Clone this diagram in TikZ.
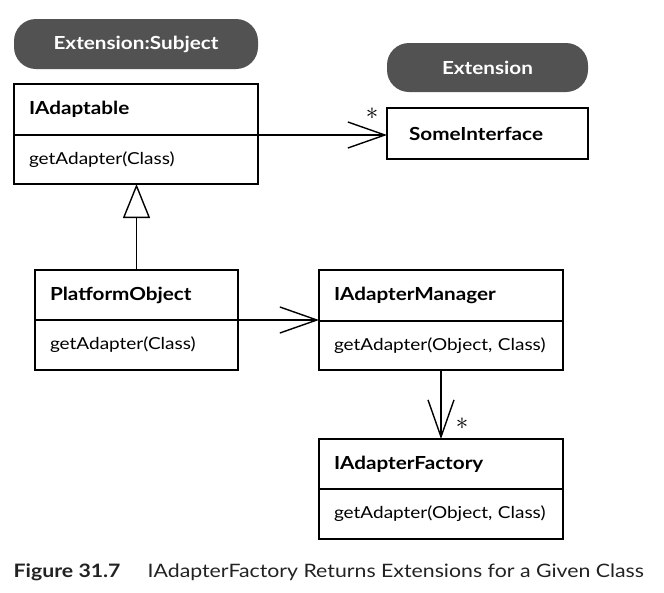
\documentclass[tikz,border=0pt]{standalone}
\usepackage{fontspec}
\setmainfont[FakeStretch=1.15]{Lato}
\usetikzlibrary{positioning,arrows.meta}

\definecolor{pillgray}{HTML}{525252}
\definecolor{captiongray}{HTML}{222222}

\begin{document}
\begin{tikzpicture}[x=1pt,y=-1pt,line width=1.4pt,
classhead/.style={rectangle, draw=black, outer sep=0pt, inner xsep=15pt, text width=#1, minimum height=51pt, align=left, font=\bfseries\fontsize{18}{21}\selectfont},
classhead/.default=214pt,
classbody/.style={classhead=#1, minimum height=49pt, font=\fontsize{16.5}{20}\selectfont},
classbody/.default=214pt,
pill/.style={rectangle, rounded corners=22pt, fill=pillgray, text=white, outer sep=0pt, font=\bfseries\fontsize{18}{21}\selectfont},
assoc/.style={-{Straight Barb[length=37pt,width=26pt]}},
inherit/.style={-{Triangle[open,length=34pt,width=27pt]}},
mult/.style={font=\fontsize{36}{36}\selectfont, inner sep=0pt}
]
\useasboundingbox (0,0) rectangle (664,592);

% stereotype pills
\node[pill, minimum width=244pt, minimum height=50pt, anchor=north west] (subject_ext) at (14,19) {Extension:Subject};
\node[pill, minimum width=201pt, minimum height=49pt, anchor=north west] (ext) at (387,43) {Extension};

% classes
\node[classhead, anchor=north west] (adaptable) at (14,84) {IAdaptable};
\node[classbody, below=0pt of adaptable] (adaptable_ops) {getAdapter(Class)};

\node[classhead=157pt, inner xsep=22pt, anchor=north west] (some_iface) at (387,108) {SomeInterface};

\node[classhead=173pt, anchor=north west, minimum height=50pt] (platform) at (35,270) {PlatformObject};
\node[classbody=173pt, below=0pt of platform, minimum height=50pt] (platform_ops) {getAdapter(Class)};

\node[classhead, anchor=north west] (manager) at (319,270) {IAdapterManager};
\node[classbody, below=0pt of manager] (manager_ops) {getAdapter(Object, Class)};

\node[classhead, anchor=north west, minimum height=50pt] (factory) at (319,439) {IAdapterFactory};
\node[classbody, below=0pt of factory, minimum height=50pt] (factory_ops) {getAdapter(Object, Class)};

% connectors
\draw[assoc] (adaptable.south east) -- (adaptable.south east -| some_iface.west)
  node[mult, at end, xshift=-15pt, yshift=21pt] {$\ast$};
\draw[inherit] (platform.north) -- (platform.north |- adaptable_ops.south);
\draw[assoc] (platform.south east) -- (platform.south east -| manager.west);
\draw[assoc] (manager_ops.south) -- (factory.north)
  node[mult, at end, xshift=21pt, yshift=15pt] {$\ast$};

% caption
\node[anchor=base west, inner sep=0pt, text=captiongray, font=\bfseries\fontsize{18.5}{22}\selectfont] (fig_num) at (13,577) {Figure 31.7};
\node[anchor=base west, inner sep=0pt, text=captiongray, font=\fontsize{18.5}{22}\selectfont] (fig_title) at (147,577) {IAdapterFactory Returns Extensions for a Given Class};
\end{tikzpicture}
\end{document}
